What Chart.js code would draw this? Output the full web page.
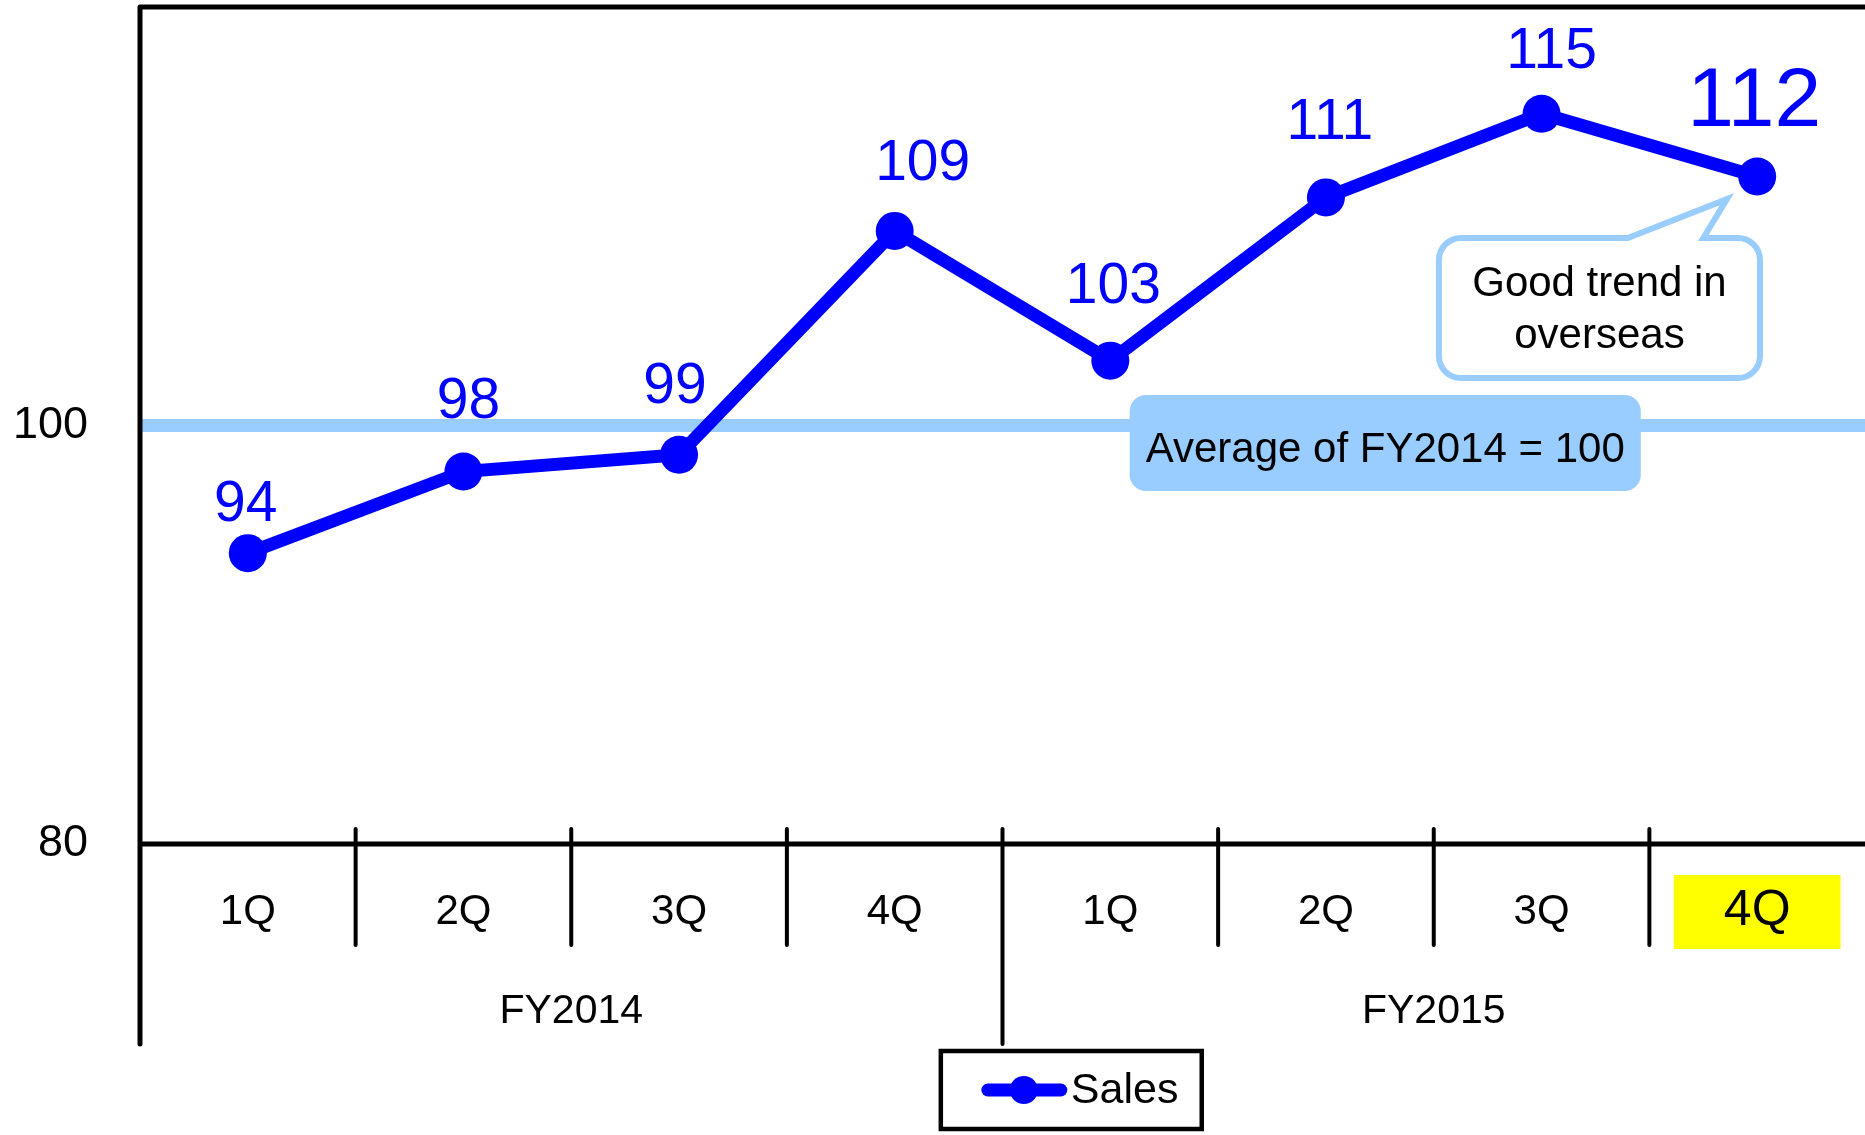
<!DOCTYPE html>
<html>
<head>
<meta charset="utf-8">
<script src="https://cdn.jsdelivr.net/npm/chart.js@4.4.1/dist/chart.umd.min.js"></script>
<style>
html,body{margin:0;padding:0;background:#fff;overflow:hidden}
canvas{display:block}
</style>
</head>
<body>
<canvas id="c" width="1865" height="1135" style="width:1865px;height:1135px"></canvas>
<script>
// ---------- data ----------
const quarterLabels = ['1Q', '2Q', '3Q', '4Q', '1Q', '2Q', '3Q', '4Q'];
const fiscalYears = ['FY2014', 'FY2015'];
const quartersPerYear = 4;
const salesValues = [93.9, 97.8, 98.6, 109.3, 103.1, 110.9, 114.9, 111.9];
const salesLabels = ['94', '98', '99', '109', '103', '111', '115', '112'];
const yTickValues = [80, 100];
const yMin = 80, yMax = 120;
const baseLineValue = 100;
const baseLineText = 'Average of FY2014 = 100';
const calloutLines = ['Good trend in', 'overseas'];
const seriesName = 'Sales';

// ---------- style ----------
const FONT = "'Liberation Sans', Arial, Helvetica, sans-serif";
const BLUE = '#0000FF';
const LIGHT = '#99CCFF';

function roundRect(ctx, l, t, r, b, rad) {
  ctx.beginPath();
  ctx.moveTo(l + rad, t);
  ctx.lineTo(r - rad, t);
  ctx.arcTo(r, t, r, t + rad, rad);
  ctx.lineTo(r, b - rad);
  ctx.arcTo(r, b, r - rad, b, rad);
  ctx.lineTo(l + rad, b);
  ctx.arcTo(l, b, l, b - rad, rad);
  ctx.lineTo(l, t + rad);
  ctx.arcTo(l, t, l + rad, t, rad);
  ctx.closePath();
}

const labelStyle = {
  dx: [-2, 5, -4, 28, 3, 4, 10, -3],
  dy: [32, 54, 52, 51, 58, 58, 46, 50],
  size: [57, 57, 57, 57, 57, 57, 57, 84]
};

const decoPlugin = {
  id: 'deco',
  beforeDatasetsDraw(chart) {
    const { ctx, chartArea: a, scales: { x, y } } = chart;
    ctx.save();
    // reference line (average = 100)
    const yb = y.getPixelForValue(baseLineValue);
    ctx.fillStyle = LIGHT;
    ctx.fillRect(a.left, yb - 6.5, chart.width - a.left, 13);
    // frame
    ctx.strokeStyle = '#000';
    ctx.lineCap = 'round';
    ctx.lineWidth = 5;
    ctx.beginPath();
    ctx.moveTo(a.left, a.top); ctx.lineTo(chart.width + 10, a.top);
    ctx.moveTo(a.left, a.top); ctx.lineTo(a.left, a.bottom + 200);
    ctx.moveTo(a.left, a.bottom); ctx.lineTo(chart.width + 10, a.bottom);
    ctx.stroke();
    ctx.lineWidth = 4;
    ctx.beginPath();
    for (let i = 1; i < quarterLabels.length; i++) {
      const xp = (x.getPixelForValue(i - 1) + x.getPixelForValue(i)) / 2;
      const isGroup = i % quartersPerYear === 0;
      ctx.moveTo(xp, a.bottom - 15);
      ctx.lineTo(xp, a.bottom + (isGroup ? 200 : 101));
    }
    ctx.stroke();
    ctx.restore();
  },
  afterDatasetsDraw(chart) {
    const { ctx, scales: { x, y } } = chart;
    const meta = chart.getDatasetMeta(0);
    ctx.save();
    // data labels
    ctx.fillStyle = BLUE;
    ctx.textAlign = 'center';
    ctx.textBaseline = 'alphabetic';
    meta.data.forEach((pt, i) => {
      ctx.font = labelStyle.size[i] + 'px ' + FONT;
      ctx.fillText(salesLabels[i], pt.x + labelStyle.dx[i], pt.y - labelStyle.dy[i]);
    });

    // average box
    const bl = x.getPixelForValue(4.09), br = x.getPixelForValue(6.46);
    const bt = y.getPixelForValue(101.46), bb = y.getPixelForValue(96.87);
    ctx.fillStyle = LIGHT;
    roundRect(ctx, bl, bt, br, bb, 16);
    ctx.fill();
    ctx.fillStyle = '#000';
    ctx.font = '42px ' + FONT;
    ctx.textBaseline = 'middle';
    ctx.fillText(baseLineText, (bl + br) / 2, (bt + bb) / 2 + 7);

    // callout
    const cl = x.getPixelForValue(5.524), cr = x.getPixelForValue(7.013);
    const ct = y.getPixelForValue(108.96), cb = y.getPixelForValue(102.27);
    const tL = x.getPixelForValue(6.40), tR = x.getPixelForValue(6.75);
    const tipX = x.getPixelForValue(6.86), tipY = y.getPixelForValue(110.82);
    const r = 22;
    ctx.beginPath();
    ctx.moveTo(cl + r, ct);
    ctx.lineTo(tL, ct);
    ctx.lineTo(tipX, tipY);
    ctx.lineTo(tR, ct);
    ctx.lineTo(cr - r, ct);
    ctx.arcTo(cr, ct, cr, ct + r, r);
    ctx.lineTo(cr, cb - r);
    ctx.arcTo(cr, cb, cr - r, cb, r);
    ctx.lineTo(cl + r, cb);
    ctx.arcTo(cl, cb, cl, cb - r, r);
    ctx.lineTo(cl, ct + r);
    ctx.arcTo(cl, ct, cl + r, ct, r);
    ctx.closePath();
    ctx.fillStyle = '#fff';
    ctx.fill();
    ctx.strokeStyle = LIGHT;
    ctx.lineWidth = 6;
    ctx.lineJoin = 'miter';
    ctx.stroke();
    ctx.fillStyle = '#000';
    ctx.font = '42px ' + FONT;
    const cy = (ct + cb) / 2;
    ctx.fillText(calloutLines[0], (cl + cr) / 2, cy - 24);
    ctx.fillText(calloutLines[1], (cl + cr) / 2, cy + 28);
    ctx.restore();
  },
  afterDraw(chart) {
    const { ctx, chartArea: a, scales: { x } } = chart;
    ctx.save();
    // fiscal year group labels
    ctx.fillStyle = '#000';
    ctx.font = '41px ' + FONT;
    ctx.textAlign = 'center';
    ctx.textBaseline = 'middle';
    fiscalYears.forEach((fy, g) => {
      const x0 = x.getPixelForValue(g * quartersPerYear);
      const x1 = x.getPixelForValue(g * quartersPerYear + quartersPerYear - 1);
      ctx.fillText(fy, (x0 + x1) / 2, a.bottom + 168);
    });
    // legend box
    const ds = chart.data.datasets[0];
    const ll = x.getPixelForValue(3.214), lr = x.getPixelForValue(4.424);
    const lt = a.bottom + 207, lb = a.bottom + 285;
    ctx.strokeStyle = '#000';
    ctx.lineWidth = 4.5;
    ctx.strokeRect(ll, lt, lr - ll, lb - lt);
    const ly = (lt + lb) / 2;
    ctx.strokeStyle = ds.borderColor;
    ctx.lineWidth = 13;
    ctx.lineCap = 'round';
    ctx.beginPath();
    ctx.moveTo(ll + 47, ly); ctx.lineTo(ll + 120, ly);
    ctx.stroke();
    ctx.fillStyle = ds.borderColor;
    ctx.beginPath();
    ctx.arc(ll + 83, ly, 14, 0, Math.PI * 2);
    ctx.fill();
    ctx.fillStyle = '#000';
    ctx.font = '43px ' + FONT;
    ctx.textAlign = 'left';
    ctx.fillText(ds.label, ll + 130, ly + 1);
    ctx.restore();
  }
};

new Chart(document.getElementById('c'), {
  type: 'line',
  data: {
    labels: quarterLabels,
    datasets: [{
      label: seriesName,
      data: salesValues,
      borderColor: BLUE,
      backgroundColor: BLUE,
      borderWidth: 13,
      pointRadius: 19,
      pointHoverRadius: 19,
      pointBackgroundColor: BLUE,
      pointBorderWidth: 0,
      tension: 0,
      clip: false
    }]
  },
  options: {
    responsive: false,
    animation: false,
    events: [],
    layout: { autoPadding: false, padding: { top: 7, left: 0, right: 0, bottom: 0 } },
    plugins: { legend: { display: false }, tooltip: { enabled: false } },
    scales: {
      x: {
        type: 'category',
        offset: true,
        grid: { display: false, drawTicks: false },
        border: { display: false },
        ticks: {
          color: '#000',
          padding: 43,
          autoSkip: false,
          maxRotation: 0,
          font: (c) => c.index === 7 ? { family: FONT, size: 50, lineHeight: 0.96 } : { family: FONT, size: 42 },
          showLabelBackdrop: (c) => c.index === 7,
          backdropColor: '#FFFF00',
          backdropPadding: { left: 50, right: 50, top: 12, bottom: 14 }
        },
        afterFit(s) {
          s.height = 291;
          s.paddingLeft = 0; s.paddingRight = 0; s.paddingTop = 0; s.paddingBottom = 0;
        }
      },
      y: {
        min: yMin,
        max: yMax,
        grid: { display: false, drawTicks: false },
        border: { display: false },
        afterBuildTicks(s) { s.ticks = yTickValues.map(v => ({ value: v })); },
        ticks: { color: '#000', font: { family: FONT, size: 45 }, padding: 52 },
        afterFit(s) {
          s.width = 140;
          s.paddingLeft = 0; s.paddingRight = 0; s.paddingTop = 0; s.paddingBottom = 0;
        }
      }
    }
  },
  plugins: [decoPlugin]
});
</script>
</body>
</html>
